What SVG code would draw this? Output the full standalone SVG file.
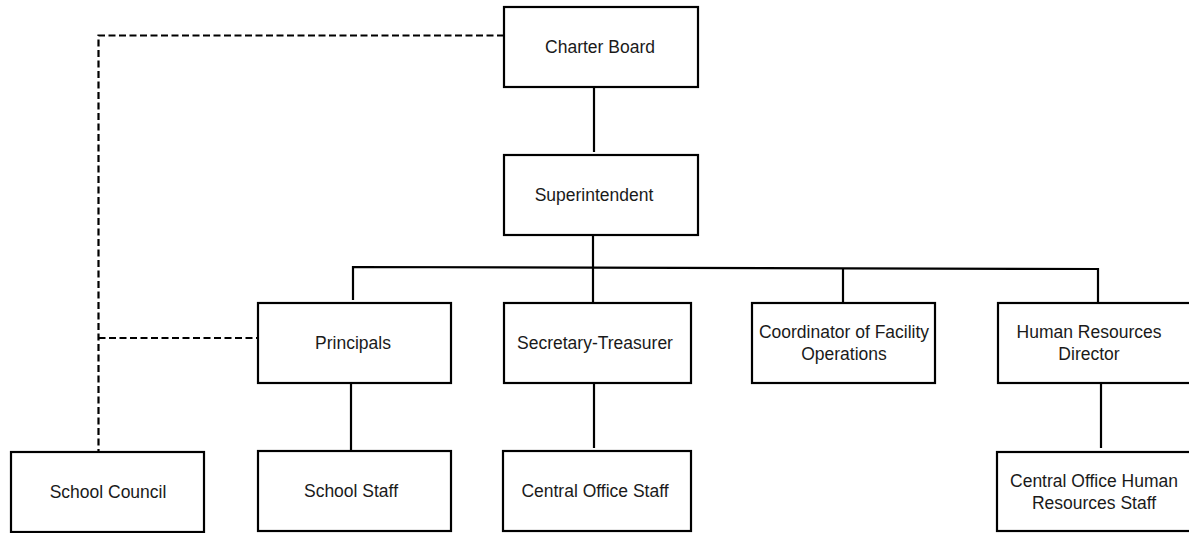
<svg xmlns="http://www.w3.org/2000/svg" width="1189" height="533" viewBox="0 0 1189 533">
<style>
.box{fill:#fff;stroke:#000;stroke-width:2.2}
.t{font-family:"Liberation Sans",Arial,sans-serif;font-size:17.5px;fill:#1a1a1a;text-anchor:middle;dominant-baseline:central}
.ln{fill:none;stroke:#000;stroke-width:2.2}
.dash{fill:none;stroke:#000;stroke-width:2.2;stroke-dasharray:7 3.5}
</style>
<rect width="1189" height="533" fill="#fff"/>
<g id="connectors">
<line class="ln" x1="594" y1="87" x2="594" y2="152"/>
<line class="ln" x1="593" y1="235" x2="593" y2="303"/>
<polyline class="ln" points="353,300 353,267 1098,269 1098,303"/>
<line class="ln" x1="843" y1="268" x2="843" y2="303"/>
<line class="ln" x1="351" y1="383" x2="351" y2="450"/>
<line class="ln" x1="594" y1="383" x2="594" y2="448"/>
<line class="ln" x1="1101" y1="383" x2="1101" y2="448"/>
<polyline class="dash" points="504,35.5 98.5,35.5 98.5,452"/>
<line class="dash" x1="98.5" y1="338" x2="258" y2="338"/>
</g>
<g id="charter-board"><rect class="box" x="504" y="7" width="194" height="80"/><text class="t" x="600" y="47">Charter Board</text></g>
<g id="superintendent"><rect class="box" x="504" y="155" width="194" height="80"/><text class="t" x="594" y="195">Superintendent</text></g>
<g id="principals"><rect class="box" x="258" y="303" width="193" height="80"/><text class="t" x="353" y="343">Principals</text></g>
<g id="secretary-treasurer"><rect class="box" x="504" y="303" width="187" height="80"/><text class="t" x="595" y="343">Secretary-Treasurer</text></g>
<g id="coordinator"><rect class="box" x="752" y="303" width="183" height="80"/><text class="t" x="844" y="332">Coordinator of Facility</text><text class="t" x="844" y="354">Operations</text></g>
<g id="hr-director"><rect class="box" x="998" y="303" width="194" height="80"/><text class="t" x="1089" y="332">Human Resources</text><text class="t" x="1089" y="354">Director</text></g>
<g id="school-council"><rect class="box" x="11" y="452" width="193" height="80"/><text class="t" x="108" y="492">School Council</text></g>
<g id="school-staff"><rect class="box" x="258" y="451" width="193" height="80"/><text class="t" x="351" y="491">School Staff</text></g>
<g id="central-office-staff"><rect class="box" x="503" y="451" width="188" height="80"/><text class="t" x="595" y="491">Central Office Staff</text></g>
<g id="central-office-hr-staff"><rect class="box" x="997" y="452" width="195" height="79"/><text class="t" x="1094" y="481">Central Office Human</text><text class="t" x="1094" y="503">Resources Staff</text></g>
</svg>
